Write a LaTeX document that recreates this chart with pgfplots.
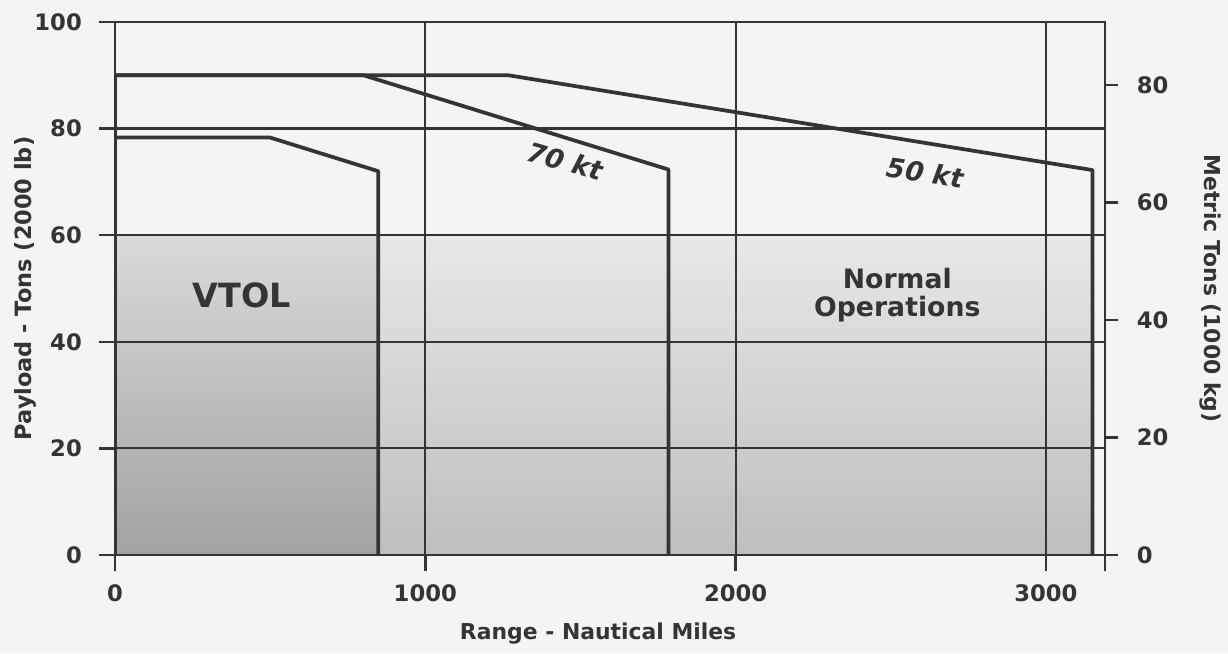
\documentclass[border=0pt]{standalone}
\usepackage{fontspec}
\setmainfont{DejaVu Sans}
\usepackage{pgfplots}
\pgfplotsset{compat=1.18}
\definecolor{ink}{RGB}{52,52,52}
\definecolor{bg}{RGB}{244,244,244}
\definecolor{vtolbot}{RGB}{162,162,162}
\definecolor{vtoltop}{RGB}{218,218,218}
\definecolor{normbot}{RGB}{190,190,190}
\definecolor{normtop}{RGB}{232,232,232}
\begin{document}
\begin{tikzpicture}
\fill[bg] (-43.08pt,-36.71pt) rectangle (416.92pt,207.9pt);
\begin{axis}[
  scale only axis, width=370.8pt, height=199.7pt,
  xmin=0, xmax=3190, ymin=0, ymax=100,
  axis on top,
  tick align=outside, tick pos=left,
  xtick={0,1000,2000,3000}, ytick={0,20,40,60,80,100},
  extra x ticks={3190}, extra x tick labels={}, extra x tick style={grid=none},
  major tick length=6pt,
  grid=major, grid style={ink, line width=0.8pt},
  axis line style={-, ink, line width=1pt},
  every tick/.style={ink, line width=0.9pt},
  tick label style={font=\bfseries\fontsize{8.5}{10}\selectfont, text=ink},
  /pgf/number format/assume math mode=true,
  /pgf/number format/set thousands separator={},
  xticklabel style={yshift=-1.7pt},
  yticklabel style={xshift=-2.9pt},
  xlabel={Range - Nautical Miles},
  xlabel style={at={(axis description cs:0.488,-0.148)}, anchor=center, font=\bfseries\fontsize{8.2}{10}\selectfont, text=ink},
  ylabel={Payload - Tons (2000 lb)},
  ylabel style={at={(axis description cs:-0.0905,0.5)}, anchor=center, font=\bfseries\fontsize{8.4}{10}\selectfont, text=ink},
]
\addplot[draw=none, top color=normtop, bottom color=normbot] coordinates {(848,0) (848,60) (3150,60) (3150,0)} \closedcycle;
\addplot[draw=none, top color=vtoltop, bottom color=vtolbot] coordinates {(0,0) (0,60) (848,60) (848,0)} \closedcycle;
\addplot[ink, line width=1.4pt, line join=round] coordinates {(0,0) (0,78.3) (500,78.3) (848,72) (848,0)};
\addplot[ink, line width=1.4pt, line join=round] coordinates {(0,90) (800,90) (1784,72.3) (1784,0)};
\addplot[ink, line width=1.4pt, line join=round] coordinates {(0,0) (0,90) (1267,90) (3150,72.2) (3150,0)};
\node[font=\bfseries\fontsize{12.5}{13}\selectfont, text=ink] at (axis cs:408,48.8) {VTOL};
\node[font=\bfseries\fontsize{10}{10.5}\selectfont, text=ink, align=center] at (axis cs:2521,48.8) {Normal\\Operations};
\node[font=\bfseries\itshape\fontsize{10}{12}\selectfont, text=ink, rotate=-16] at (axis cs:1451,73.9) {70 kt};
\node[font=\bfseries\itshape\fontsize{10}{12}\selectfont, text=ink, rotate=-9] at (axis cs:2611,71.7) {50 kt};
\end{axis}
\begin{axis}[
  scale only axis, width=370.8pt, height=199.7pt,
  xmin=0, xmax=3190, ymin=0, ymax=90.7185,
  axis x line=none, axis y line*=right,
  axis line style={-, ink, line width=1pt},
  ytick={0,20,40,60,80},
  tick align=outside, major tick length=5pt,
  every tick/.style={ink, line width=0.9pt},
  tick label style={font=\bfseries\fontsize{8.5}{10}\selectfont, text=ink},
  /pgf/number format/assume math mode=true,
  yticklabel style={xshift=3.4pt},
  ylabel={Metric Tons (1000 kg)},
  ylabel style={at={(axis description cs:1.107,0.5)}, anchor=center, rotate=180, font=\bfseries\fontsize{8.2}{10}\selectfont, text=ink},
]
\addplot[draw=none] coordinates {(0,0) (3190,90)};
\end{axis}
\pgfresetboundingbox
\path[use as bounding box] (-43.08pt,-36.71pt) rectangle (416.92pt,207.9pt);
\end{tikzpicture}
\end{document}
